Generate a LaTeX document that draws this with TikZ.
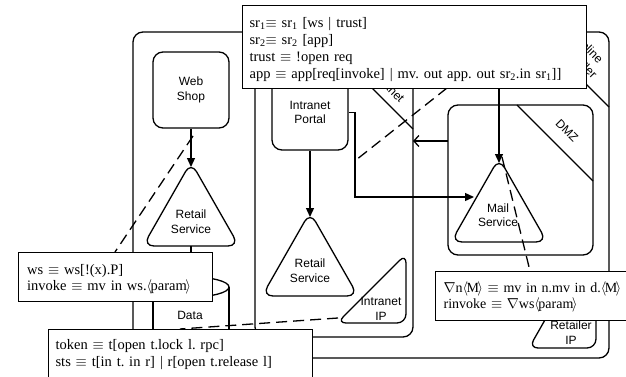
\documentclass[tikz,border=0pt]{standalone}
\usepackage{fontspec}
\setmainfont{Liberation Serif}
\newfontfamily\labfont{Liberation Sans}
\usetikzlibrary{arrows.meta}
\newcommand{\pbar}{\hspace{5pt}\textbar\hspace{5pt}}
\newcommand{\angl}[1]{$\langle\mkern-2mu$#1$\mkern-2mu\rangle$}
\begin{document}
\begin{tikzpicture}[x=1pt,y=-1pt,line width=1.3pt,
  lab/.style={font=\labfont\fontsize{12}{14.5}\selectfont, align=center, inner sep=0pt},
  frm/.style={draw, fill=white, line width=1.2pt, anchor=north west, align=left,
     inner xsep=7pt, inner ysep=0pt, font=\fontsize{14.5}{17}\selectfont\frenchspacing},
  rbox/.style={draw, rounded corners=10pt, inner sep=0pt},
  tri/.style={draw, rounded corners=11pt},
  tri2/.style={draw, rounded corners=9pt},
  arr/.style={-{Triangle[length=9pt,width=8pt]}},
  barb/.style={-{Straight Barb[length=5pt,width=11pt]}},
  dsh/.style={dash pattern=on 11pt off 6pt},
]
\useasboundingbox (0,0) rectangle (626,377);
% outer box: Online Retailer
\node[rbox, minimum width=476pt, minimum height=326pt] (retailer) at (371,195) {};
\coordinate (orA) at (560,58);
\coordinate (orB) at (609,107);
\draw (orA) -- (orB);
\node[lab, align=left, rotate=-45, font=\labfont\fontsize{12}{15}\selectfont] (orlab) at (585.8,56.4) {Online\\Retailer};
% intranet box
\node[rbox, minimum width=158pt, minimum height=277pt] (intranet) at (334,198.5) {};
\coordinate (inA) at (344,60);
\coordinate (inB) at (413,129);
\draw (inA) -- (inB);
\node[lab, rotate=-45] (inlab) at (388,86) {Intranet};
% DMZ
\node[rbox, minimum width=145pt, minimum height=150pt] (dmz) at (520.5,180) {};
\coordinate (dmA) at (517,105);
\coordinate (dmB) at (593,181);
\draw (dmA) -- (dmB);
\node[lab, rotate=-45] (dmlab) at (567,131) {DMZ};
% Web shop
\node[rbox, lab, minimum width=76pt, minimum height=76pt] (web) at (191,90) {Web\\Shop};
% Intranet portal
\node[rbox, lab, minimum width=76pt, minimum height=75pt] (portal) at (310,112.5) {Intranet\\Portal};
% Retail service (left)
\draw[tri] (191,162) -- (239,246) -- (143,246) -- cycle;
\node[lab] (rs1) at (191,221.5) {Retail\\Service};
\coordinate (rs1top) at (191,167);
\coordinate (rs1bot) at (191,246);
% Retail service (right)
\draw[tri] (310,212) -- (358,296) -- (262,296) -- cycle;
\node[lab] (rs2) at (310,270.5) {Retail\\Service};
\coordinate (rs2top) at (310,217);
% Mail service
\draw[tri] (499,158) -- (547,242) -- (451,242) -- cycle;
\node[lab] (mail) at (498,215) {Mail\\Service};
\coordinate (mailtop) at (499,163);
\coordinate (mailleft) at (474,197);
% Intranet IP
\draw[tri2] (337,323) -- (406,254) -- (406,323) -- cycle;
\node[lab] (iip) at (381,309) {Intranet\\IP};
% Retailer IP
\draw[tri2] (529,348) -- (566,283) -- (596,283) -- (596,348) -- cycle;
\node[lab] (rip) at (571,332.5) {Retailer\\IP};
% Data cylinder
\draw (191,287) ellipse [x radius=38, y radius=10];
\draw (153,287) -- (153,345);
\draw (229,287) -- (229,345);
\coordinate (datatop) at (191,277);
\node[lab] (data) at (190,315) {Data};
% connectors
\draw[arr] (web.south) -- (rs1top);
\draw (rs1bot) -- (datatop);
\draw[arr] (portal.south) -- (rs2top);
\coordinate (bend) at (355,197);
\draw[arr] (portal.east) -| (bend) -- (mailleft);
\coordinate (mailsrc) at (499,80);
\draw[arr] (mailsrc) -- (mailtop);
\coordinate (dmzleft) at (448,141);
\coordinate (intraright) at (413,141);
\draw[barb] (dmzleft) -- (intraright);
% dashed
\coordinate (d1a) at (447,88);
\coordinate (d1b) at (356,160);
\draw[dsh] (d1a) -- (d1b);
\coordinate (d2a) at (193,136);
\coordinate (d2b) at (115,252);
\draw[dsh] (d2a) -- (d2b);
\coordinate (d3a) at (338,318);
\coordinate (d3b) at (180,329);
\draw[dsh] (d3a) -- (d3b);
\coordinate (d4a) at (502,157);
\coordinate (d4b) at (530,271);
\draw[dsh] (d4a) -- (d4b);
% text boxes
\node[frm, text width=330pt, minimum height=83pt] (defs) at (242,5) {%
\rule{0pt}{15pt}sr\textsubscript{1}$\equiv$ sr\textsubscript{1} [ws\pbar trust]\\
sr\textsubscript{2}$\equiv$ sr\textsubscript{2} [app]\\
trust $\equiv$ !open req\\
\mbox{app $\equiv$ app[req[invoke]\pbar mv. out app. out sr\textsubscript{2}.in sr\textsubscript{1}]]}};
\node[frm, inner xsep=8.5pt, text width=177pt, minimum height=49pt, font=\fontsize{14.5}{16.5}\selectfont\frenchspacing] (wsbox) at (18,252) {%
\rule{0pt}{14.5pt}ws $\equiv$ ws[!(x).P]\\
invoke $\equiv$ mv in ws.\angl{param}};
\node[frm, text width=250pt, minimum height=50pt] (token) at (48,329) {%
token $\equiv$ t[open t.lock l. rpc]\\
sts $\equiv$ t[in t. in r]\hspace{5pt}\textbar{} r[open t.release l]};
\node[frm, inner xsep=8pt, text width=200pt, minimum height=49pt, font=\fontsize{14}{16.5}\selectfont\frenchspacing] (nabla) at (435,271) {%
\rule{0pt}{12.8pt}\mbox{$\nabla$n\angl{M} $\equiv$ mv in n.mv in d.\angl{M}}\\
rinvoke $\equiv$ $\nabla$ws\angl{param}};
\end{tikzpicture}
\end{document}
